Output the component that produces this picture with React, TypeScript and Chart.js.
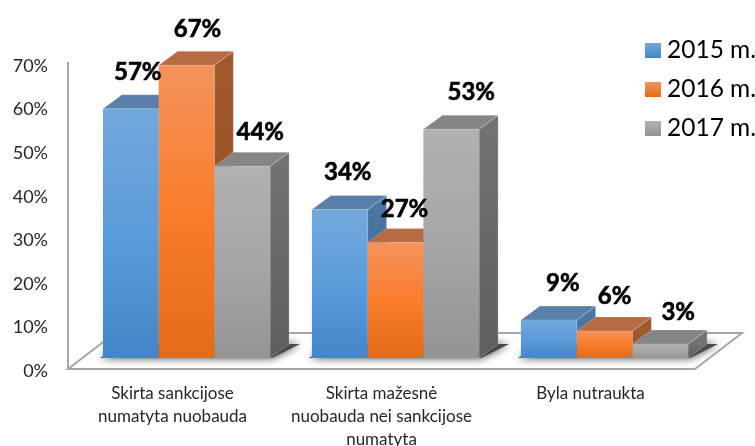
import React, { useEffect, useRef } from "react";
import { Chart, registerables } from "chart.js";

Chart.register(...registerables);

const categories = [
  ["Skirta sankcijose", "numatyta nuobauda"],
  ["Skirta mažesnė", "nuobauda nei sankcijose", "numatyta"],
  ["Byla nutraukta"],
];
const seriesNames = ["2015 m.", "2016 m.", "2017 m."];
const values2015 = [57.2, 34.1, 8.7];
const values2016 = [67.2, 26.5, 6.2];
const values2017 = [44, 52.5, 3.2];

const frontStops = [
  ["#73A8DD", "#5B9CDA", "#4485C7"],
  ["#F4935C", "#F97D2B", "#E46B17"],
  ["#B1B1B1", "#A6A6A6", "#949494"],
];
const topColors = ["#5A7FA9", "#B76B42", "#858585"];
const sideStops = [
  ["#4A76A6", "#3D6592"],
  ["#A05A2E", "#8C4A1C"],
  ["#727272", "#5E5E5E"],
];
// label offsets from the top centre of each bar (series, then category)
const labelOffsets = [
  [[7, -37], [8, -37], [14, -37]],
  [[11, -36], [9, -33], [10, -35]],
  [[18, -34], [20, -37], [18, -32]],
];

const FONT = "Lato, Carlito, sans-serif";
const SHIFT_X = 14;
const SHIFT_Y = -13;
const FLOOR_LIFT = 2;
const DEPTH_X = 19;
const DEPTH_Y = -14;

const poly = (c: CanvasRenderingContext2D, pts: number[][]) => {
  c.beginPath();
  pts.forEach((p, i) => (i ? c.lineTo(p[0], p[1]) : c.moveTo(p[0], p[1])));
  c.closePath();
};

const frontGradient = (chart: any, s: number, value: number) => {
  const y = chart.scales.y;
  const g = chart.ctx.createLinearGradient(0, y.getPixelForValue(value), 0, y.getPixelForValue(0));
  g.addColorStop(0, frontStops[s][0]);
  g.addColorStop(0.5, frontStops[s][1]);
  g.addColorStop(1, frontStops[s][2]);
  return g;
};

const scene3d = {
  id: "scene3d",
  beforeDatasetsDraw(chart: any) {
    const c = chart.ctx as CanvasRenderingContext2D;
    const { left, right, bottom } = chart.chartArea;
    const front = bottom - FLOOR_LIFT;
    const back = front - 36;
    const floor = [[left, front], [right, front], [right + 47, back], [left + 47, back]];
    c.save();
    poly(c, floor);
    c.fillStyle = "#FFFFFF";
    c.fill();
    // soft shadow of each bar group on the floor
    c.save();
    poly(c, floor);
    c.clip();
    const metas = [0, 1, 2].map((i) => chart.getDatasetMeta(i));
    categories.forEach((_, i) => {
      const a: any = metas[0].data[i];
      const b: any = metas[2].data[i];
      const x0 = a.x - a.width / 2 + SHIFT_X;
      const x1 = b.x + b.width / 2 + SHIFT_X;
      const by = bottom + SHIFT_Y;
      c.save();
      c.shadowColor = "#3A3A3A";
      c.shadowBlur = 8;
      c.fillStyle = "#4A4A4A";
      poly(c, [[x0 - 3, by], [x1 + 2, by], [x1 + 30, by - 14], [x0 + 22, by - 14]]);
      c.fill();
      c.restore();
    });
    c.restore();
    c.strokeStyle = "#A6A6A6";
    c.lineWidth = 2;
    c.lineJoin = "miter";
    poly(c, floor);
    c.stroke();
    c.beginPath();
    c.moveTo(left, front);
    c.lineTo(left, 62);
    c.stroke();
    // tops and sides, left to right; the fronts are drawn over them by the bar controller
    c.translate(SHIFT_X, SHIFT_Y);
    c.lineWidth = 0.75;
    c.strokeStyle = "rgba(255,255,255,0.3)";
    metas.forEach((meta, s) => {
      meta.data.forEach((bar: any) => {
        const x1 = bar.x + bar.width / 2;
        const x0 = bar.x - bar.width / 2;
        const g = c.createLinearGradient(0, bar.y, 0, bar.base);
        g.addColorStop(0, sideStops[s][0]);
        g.addColorStop(1, sideStops[s][1]);
        poly(c, [[x1, bar.y], [x1 + DEPTH_X, bar.y + DEPTH_Y], [x1 + DEPTH_X, bar.base + DEPTH_Y], [x1, bar.base]]);
        c.fillStyle = g;
        c.fill();
        c.stroke();
        poly(c, [[x0, bar.y], [x0 + DEPTH_X, bar.y + DEPTH_Y], [x1 + DEPTH_X, bar.y + DEPTH_Y], [x1, bar.y]]);
        c.fillStyle = topColors[s];
        c.fill();
        c.stroke();
      });
    });
    c.restore();
  },
  beforeDatasetDraw(chart: any) {
    chart.ctx.save();
    chart.ctx.translate(SHIFT_X, SHIFT_Y);
  },
  afterDatasetDraw(chart: any) {
    chart.ctx.restore();
  },
  afterDatasetsDraw(chart: any) {
    const c = chart.ctx as CanvasRenderingContext2D;
    c.save();
    c.fillStyle = "#000000";
    c.strokeStyle = "#000000";
    c.lineWidth = 0.6;
    c.font = `bold 24px ${FONT}`;
    c.textAlign = "center";
    c.textBaseline = "middle";
    chart.data.datasets.forEach((ds: any, s: number) => {
      chart.getDatasetMeta(s).data.forEach((bar: any, i: number) => {
        const [dx, dy] = labelOffsets[s][i];
        const text = `${Math.round(ds.data[i])}%`;
        const x = bar.x + SHIFT_X + dx;
        const y = bar.y + SHIFT_Y + dy;
        c.fillText(text, x, y);
        c.strokeText(text, x, y);
      });
    });
    // legend
    c.font = `24.5px ${FONT}`;
    c.textAlign = "left";
    chart.data.datasets.forEach((ds: any, s: number) => {
      const y = 43 + s * 39;
      const g = c.createLinearGradient(0, y, 0, y + 15);
      g.addColorStop(0, frontStops[s][0]);
      g.addColorStop(1, frontStops[s][2]);
      c.fillStyle = g;
      c.fillRect(645, y, 16, 15);
      c.fillStyle = "#000000";
      c.fillText(ds.label, 667, y + 7);
    });
    c.restore();
  },
};

export default function App() {
  const ref = useRef<HTMLCanvasElement>(null);
  useEffect(() => {
    const mk = (label: string, data: number[], s: number) => ({
      label,
      data,
      clip: false,
      borderWidth: 0,
      barPercentage: 1,
      categoryPercentage: 0.8,
      backgroundColor: (ctx: any) =>
        ctx.chart.chartArea && ctx.raw !== undefined ? frontGradient(ctx.chart, s, ctx.raw) : frontStops[s][1],
    });
    const chart = new Chart(ref.current!, {
      type: "bar",
      data: {
        labels: categories,
        datasets: [mk(seriesNames[0], values2015, 0), mk(seriesNames[1], values2016, 1), mk(seriesNames[2], values2017, 2)],
      },
      plugins: [scene3d],
      options: {
        responsive: false,
        animation: false,
        layout: { padding: { left: 0, right: 60, top: 66, bottom: 0 } },
        plugins: { legend: { display: false }, title: { display: false }, tooltip: { enabled: false } },
        scales: {
          x: {
            grid: { display: false, drawTicks: false },
            border: { display: false },
            afterFit: (s: any) => { s.height = 75; },
            ticks: {
              autoSkip: false,
              maxRotation: 0,
              minRotation: 0,
              padding: 11,
              color: "#262626",
              font: { family: FONT, size: 17, lineHeight: 1.36 },
            },
          },
          y: {
            min: 0,
            max: 70,
            grid: { display: false, drawTicks: false },
            border: { display: false },
            afterFit: (s: any) => { s.width = 68; },
            ticks: {
              stepSize: 10,
              padding: 20,
              color: "#262626",
              font: { family: FONT, size: 18 },
              callback: (v: any) => `${v}%`,
            },
          },
        },
      },
    } as any);
    return () => chart.destroy();
  }, []);
  return (
    <div style={{ position: "absolute", left: 0, top: 0, width: 755, height: 446, overflow: "hidden" }}>
      <canvas ref={ref} width={755} height={446} style={{ display: "block" }} />
    </div>
  );
}
